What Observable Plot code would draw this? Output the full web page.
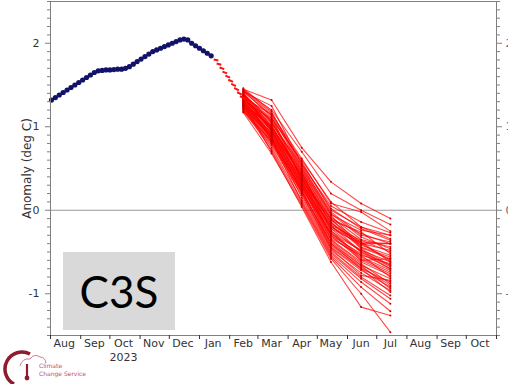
<!DOCTYPE html>
<html>
<head>
<meta charset="utf-8">
<script src="https://cdn.jsdelivr.net/npm/d3@7"></script>
<script src="https://cdn.jsdelivr.net/npm/@observablehq/plot@0.6"></script>
<style>
  html, body { margin: 0; padding: 0; background: #fff; overflow: hidden; }
  #wrap { position: relative; width: 508px; height: 384px; }
  #c3s { position: absolute; left: 63px; top: 252px; width: 112px; height: 78px; background: #d9d9d9;
         display: flex; align-items: center; justify-content: center; font-family: Lato, "Open Sans", sans-serif;
         font-size: 44px; color: #000; line-height: 1; }
  #logo { position: absolute; left: 0; top: 344px; width: 120px; height: 40px; }
</style>
</head>
<body>
<div id="wrap">
  <div id="chart"></div>
  <div id="c3s">C3S</div>
  <svg id="logo" width="120" height="40" viewBox="0 0 120 40">
    <path d="M14 40 A17 17 0 0 1 30 10" fill="none" stroke="#8e1b2e" stroke-width="3.5"/>
    <path d="M20 22 Q22 14 30 15 Q34 9 40 13 Q45 13 46 19" fill="none" stroke="#c2587a" stroke-width="0.8"/>
    <line x1="27" y1="20" x2="27" y2="33" stroke="#8e1b2e" stroke-width="2.2"/>
    <circle cx="27" cy="34" r="2.4" fill="#8e1b2e"/>
    <text x="39" y="24" font-family="DejaVu Sans" font-size="6" fill="#c0506c">Climate</text>
    <text x="39" y="32" font-family="DejaVu Sans" font-size="6" fill="#c0506c">Change Service</text>
  </svg>
</div>
<script>
// ---- Observed (blue) series: one point every 4 days from 2 Aug 2023 ----
const obsStart = "2023-08-02";
const obsStepDays = 4;
const obsValues = [1.32,1.35,1.38,1.41,1.44,1.47,1.50,1.53,1.56,1.59,1.62,1.65,1.67,1.675,1.68,1.68,1.685,1.69,1.69,1.70,
  1.72,1.75,1.78,1.81,1.84,1.87,1.90,1.92,1.94,1.96,1.98,2.00,2.02,2.04,2.05,2.04,2.00,1.97,1.94,1.91,1.88,1.85];

// ---- Short red dashes between observations and forecast start ----
const dashDates = ["2024-01-18","2024-01-21","2024-01-24","2024-01-27","2024-01-30","2024-02-02","2024-02-05","2024-02-08","2024-02-11","2024-02-14"];
const dashValues = [1.80,1.75,1.70,1.65,1.60,1.55,1.50,1.45,1.40,1.35];
const dashHalf = [0.006,0.008,0.010,0.011,0.012,0.013,0.014,0.015,0.016,0.017];

// ---- Forecast ensemble members (monthly means, index = member) ----
const ensDates = ["2024-02-15","2024-03-15","2024-04-15","2024-05-15","2024-06-15","2024-07-15"];
const feb = [1.45,1.44,1.35,1.42,1.30,1.38,1.46,1.28,1.33,1.40,1.25,1.36,1.31,1.43,1.27,1.39,1.22,1.34,1.29,1.41,1.24,1.37,1.20,1.32,1.26,1.35,1.18,1.30,1.23,1.36,1.21,1.28,1.17,1.38,1.33,1.29,1.42,1.26,1.35,1.31,1.24,1.40,1.19,1.37,1.27,1.34,1.22,1.44,1.30,1.25];
const mar = [1.32,1.20,1.15,1.25,1.10,1.05,1.18,1.00,1.08,0.95,1.02,0.98,0.92,1.12,0.90,1.06,0.88,0.96,0.85,1.00,0.82,0.94,0.80,0.91,0.86,0.97,0.78,0.88,0.75,0.84,0.72,0.70,0.68,1.10,1.04,0.99,1.14,0.93,1.02,0.95,0.89,1.07,0.83,0.99,0.87,0.97,0.81,1.16,0.90,0.84];
const apr = [0.75,0.70,0.62,0.55,0.58,0.50,0.52,0.45,0.48,0.42,0.40,0.44,0.38,0.36,0.34,0.46,0.30,0.32,0.28,0.40,0.26,0.35,0.22,0.30,0.24,0.20,0.18,0.15,0.12,0.10,0.08,0.04,0.06,0.60,0.54,0.47,0.50,0.43,0.38,0.33,0.29,0.37,0.27,0.41,0.25,0.36,0.21,0.56,0.31,0.23];
const may = [0.34,0.20,0.08,0.05,0.00,-0.05,-0.02,-0.10,-0.08,-0.12,-0.15,-0.18,-0.20,-0.10,-0.22,-0.25,-0.18,-0.28,-0.30,-0.32,-0.26,-0.35,-0.38,-0.40,-0.42,-0.45,-0.48,-0.50,-0.52,-0.54,-0.56,-0.62,-0.58,0.10,-0.04,-0.12,-0.06,-0.16,-0.22,-0.24,-0.34,-0.14,-0.36,-0.20,-0.44,-0.28,-0.46,0.02,-0.30,-0.40];
const jun = [0.08,0.00,-0.02,-0.14,-0.20,-0.24,-0.30,-0.28,-0.35,-0.38,-0.40,-0.36,-0.42,-0.45,-0.40,-0.48,-0.50,-0.54,-0.52,-0.56,-0.60,-0.62,-0.66,-0.70,-0.68,-0.72,-0.75,-0.80,-0.82,-0.86,-0.92,-1.16,-1.00,-0.20,-0.32,-0.26,-0.44,-0.40,-0.50,-0.58,-0.54,-0.46,-0.64,-0.38,-0.70,-0.48,-0.78,-0.22,-0.60,-0.66];
const jul = [-0.10,-0.17,-0.25,-0.27,-0.30,-0.30,-0.38,-0.40,-0.44,-0.40,-0.48,-0.50,-0.54,-0.58,-0.60,-0.62,-0.66,-0.64,-0.70,-0.72,-0.76,-0.78,-0.82,-0.86,-0.90,-0.92,-0.96,-1.02,-1.06,-1.12,-1.21,-1.26,-1.46,-0.34,-0.46,-0.52,-0.56,-0.40,-0.70,-0.74,-0.80,-0.66,-0.88,-0.62,-0.98,-0.68,-0.84,-0.36,-0.58,-0.94];

// ---- Axis tick labels ----
const xLabels = ["Aug","Sep","Oct","Nov","Dec","Jan","Feb","Mar","Apr","May","Jun","Jul","Aug","Sep","Oct"];
const yMajor = [-1, 0, 1, 2];
const yMajorLabels = ["-1", "0", "1", "2"];
const yearLabel = "2023";
const yTitle = "Anomaly (deg C)";

// ---- Build tables ----
const day = 864e5;
const t0 = new Date(obsStart);
const obs = obsValues.map((v, i) => ({date: new Date(+t0 + i * obsStepDays * day), value: v}));
const dashes = dashDates.map((d, i) => ({
  x1: new Date(+new Date(d) - 2.4 * day), x2: new Date(+new Date(d) + 2.4 * day),
  y1: dashValues[i] + dashHalf[i], y2: dashValues[i] - dashHalf[i]
}));
const months = [feb, mar, apr, may, jun, jul];
const ens = [];
feb.forEach((_, m) => months.forEach((arr, j) => ens.push({member: m, date: new Date(ensDates[j]), value: arr[m]})));

const xStart = new Date("2023-08-01"), xEnd = new Date("2024-11-01");
const monthStarts = d3.utcMonth.range(xStart, new Date("2024-11-02"));
const monthMids = xLabels.map((_, i) => d3.utcDay.offset(d3.utcMonth.offset(xStart, i), 14));
const yMinor = d3.range(-15, 26).map(k => k / 10).filter(v => !yMajor.includes(v));
const yLab = d => yMajorLabels[yMajor.indexOf(d)];

const grey = "#808080";
const chart = Plot.plot({
  width: 508, height: 384,
  marginLeft: 50, marginRight: 12, marginTop: 1, marginBottom: 49,
  style: {fontFamily: "DejaVu Sans", fontSize: "11px", color: "#333", background: "white", overflow: "visible"},
  x: {type: "utc", domain: [xStart, xEnd], label: null},
  y: {domain: [-1.5, 2.5], label: null},
  marks: [
    Plot.ruleY([0], {stroke: "#999", strokeWidth: 1.2}),
    Plot.line(ens, {x: "date", y: "value", z: "member", stroke: "#ff0000", strokeOpacity: 0.72, strokeWidth: 1.1}),
    Plot.dot(ens, {x: "date", y: "value", r: 1, fill: "#d00000", stroke: null}),
    Plot.link(dashes, {x1: "x1", x2: "x2", y1: "y1", y2: "y2", stroke: "#ff1010", strokeWidth: 2}),
    Plot.line(obs, {x: "date", y: "value", stroke: "#12126a", strokeWidth: 1.5}),
    Plot.dot(obs, {x: "date", y: "value", r: 2.6, fill: "#12126a", stroke: null}),
    Plot.frame({stroke: grey, strokeWidth: 1}),
    // left axis
    Plot.axisY(yMajor, {anchor: "left", tickSize: 5, tickPadding: 6, tickFormat: yLab, stroke: grey, fill: "#333", label: null}),
    Plot.axisY(yMinor, {anchor: "left", tickSize: 3, tickFormat: () => "", stroke: grey, label: null}),
    // right axis (labels cut at the edge, as in the reference)
    Plot.axisY(yMajor, {anchor: "right", tickSize: 5, tickPadding: 4, tickFormat: yLab, stroke: grey, fill: "#666", label: null}),
    Plot.axisY(yMinor, {anchor: "right", tickSize: 3, tickFormat: () => "", stroke: grey, label: null}),
    // bottom axis: ticks at month starts, labels mid-month
    Plot.axisX(monthStarts, {anchor: "bottom", tickSize: 4, tickFormat: () => "", stroke: "#333", label: null}),
    Plot.axisX(monthMids, {anchor: "bottom", tickSize: 0, tickPadding: 4, tickFormat: (d, i) => xLabels[i], fill: "#333", label: null}),
    Plot.text([yearLabel], {x: [monthMids[2]], frameAnchor: "bottom", dy: 25, text: d => d, fill: "#333", fontSize: 11}),
    Plot.text([yTitle], {frameAnchor: "left", textAnchor: "middle", dx: -23, rotate: -90, text: d => d, fill: "#333", fontSize: 12})
  ]
});
document.getElementById("chart").appendChild(chart);
</script>
</body>
</html>
